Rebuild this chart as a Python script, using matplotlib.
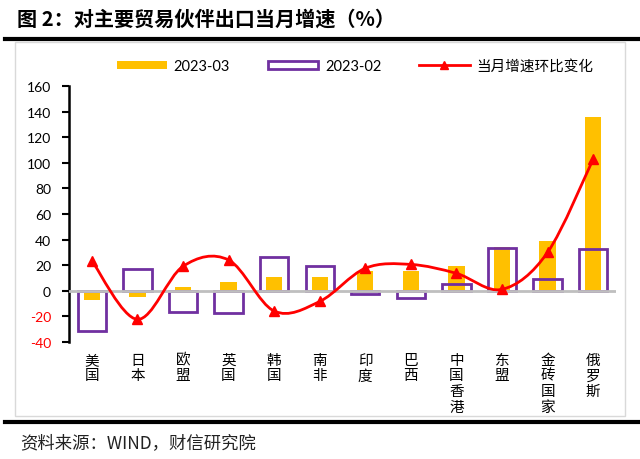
import matplotlib
matplotlib.use("Agg")
import matplotlib.pyplot as plt
from matplotlib.path import Path
from matplotlib.patches import PathPatch, Rectangle
from matplotlib.lines import Line2D
import numpy as np

plt.rcParams['font.family'] = ['Lato', 'Noto Sans CJK SC', 'DejaVu Sans']

categories = ["美国", "日本", "欧盟", "英国", "韩国", "南非", "印度", "巴西",
              "中国香港", "东盟", "金砖国家", "俄罗斯"]
mar_2023 = [-7.5, -5, 3, 7, 10.5, 11, 15, 15.5, 19.5, 34.5, 39, 136]
feb_2023 = [-32, 17, -16.5, -17.5, 26.5, 19.5, -3, -5.5, 5.5, 33.5, 9, 32.5]
mom_change = [23.5, -22.5, 19, 24, -16, -8.5, 17.5, 20.5, 13.5, 1, 30, 103]
yticks = [-40, -20, 0, 20, 40, 60, 80, 100, 120, 140, 160]

YELLOW = "#FFC000"
PURPLE = "#7030A0"
RED = "#FF0000"

fig = plt.figure(figsize=(6.4, 4.6), dpi=100)

# title and frame decorations
fig.text(17/640, 1 - 19/460, "图 2：对主要贸易伙伴出口当月增速（%）",
         fontsize=14.5, fontweight='bold', va='center', ha='left',
         family=['Noto Sans CJK SC', 'DejaVu Sans'])
fig.add_artist(Line2D([5/640, 1.0], [1 - 40/460] * 2, color='black', lw=3,
                      transform=fig.transFigure))
fig.add_artist(Line2D([5/640, 1.0], [1 - 423/460] * 2, color='black', lw=3,
                      transform=fig.transFigure))
fig.add_artist(Rectangle((15/640, 1 - 417/460), 610/640, 374/460, fill=False,
                         edgecolor='#D9D9D9', lw=1, transform=fig.transFigure))
fig.text(20/640, 1 - 443/460, "资料来源：WIND，财信研究院", fontsize=12.5,
         va='center', ha='left', style='italic',
         family=['Noto Sans CJK SC', 'DejaVu Sans'], color='#222222')

ax = fig.add_axes([69/640, 1 - 342.7/460, (616 - 69)/640, (342.7 - 87.3)/460])
x = np.arange(len(categories))

ax.bar(x, mar_2023, width=0.36, color=YELLOW, zorder=2, label="2023-03")
ax.bar(x, feb_2023, width=0.62, facecolor='none', edgecolor=PURPLE,
       linewidth=2, zorder=3, label="2023-02")
ax.axhline(0, color='#BFBFBF', lw=2, zorder=4)

# smooth line (Excel-style Catmull-Rom Bezier)
px = x.astype(float)
py = np.array(mom_change, dtype=float)
verts = [(px[0], py[0])]
codes = [Path.MOVETO]
n = len(px)
for i in range(n - 1):
    p0 = np.array([px[max(i - 1, 0)], py[max(i - 1, 0)]])
    p1 = np.array([px[i], py[i]])
    p2 = np.array([px[i + 1], py[i + 1]])
    p3 = np.array([px[min(i + 2, n - 1)], py[min(i + 2, n - 1)]])
    c1 = p1 + (p2 - p0) / 6
    c2 = p2 - (p3 - p1) / 6
    verts += [tuple(c1), tuple(c2), tuple(p2)]
    codes += [Path.CURVE4] * 3
ax.add_patch(PathPatch(Path(verts, codes), facecolor='none', edgecolor=RED,
                       lw=2, zorder=5))
ax.plot(px, py, linestyle='none', marker='^', color=RED, markersize=7, zorder=6)

ax.set_xlim(-0.5, len(categories) - 0.5)
ax.set_ylim(-40, 160)
ax.set_yticks(yticks)
ax.set_yticklabels([str(v) for v in yticks], fontsize=10)
for lab, v in zip(ax.get_yticklabels(), yticks):
    lab.set_color(RED if v < 0 else 'black')
ax.tick_params(axis='y', direction='out', length=5, width=1.5, pad=8)
ax.set_xticks(x)
ax.set_xticklabels(["\n".join(c) for c in categories], fontsize=10.5,
                   family=['Noto Sans CJK SC', 'DejaVu Sans'],
                   linespacing=1.15, va='top')
ax.tick_params(axis='x', length=0, pad=8)
for s in ['top', 'right', 'bottom']:
    ax.spines[s].set_visible(False)
ax.spines['left'].set_linewidth(1.8)

# legend
handles = [Rectangle((0, 0), 1, 1, facecolor=YELLOW, edgecolor='none'),
           Rectangle((0, 0), 1, 1, facecolor='none', edgecolor=PURPLE, lw=2),
           Line2D([0], [0], color=RED, lw=2, marker='^', markersize=6)]
labels = ["2023-03", "2023-02", "当月增速环比变化"]
fig.legend(handles, labels, loc='center', bbox_to_anchor=(355/640, 1 - 67/460),
           ncol=3, frameon=False, handlelength=3.45,
           handleheight=0.5, columnspacing=2.6, handletextpad=0.45,
           prop={'family': ['Lato', 'Noto Sans CJK SC'], 'size': 10.5})

fig.savefig("out.png", dpi=100)
